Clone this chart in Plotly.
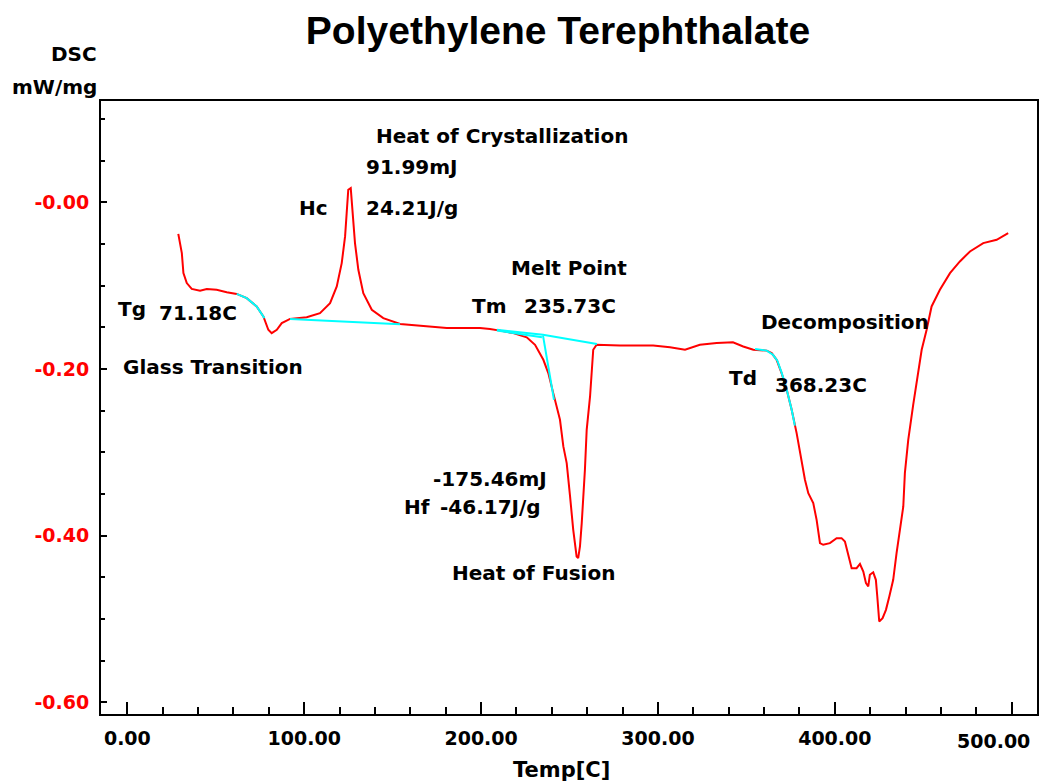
import plotly.graph_objects as go

# DSC scan of PET: temperature (C) and heat flow (mW/mg)
temp_c = [28.8, 30.8, 31.7, 33.6, 36.4, 41.1, 44.9, 50.5, 56.2, 61.8, 67.5, 73.1, 76.9,
          79.7, 81.6, 84.5, 87.3, 92.0, 101.4, 108.9, 114.6, 118.4, 121.2, 123.1, 124.0,
          124.9, 126.3, 127.4, 128.7, 130.6, 133.4, 138.2, 144.7, 154.2, 165.5, 180.6,
          199.4, 205.0, 210.7, 218.2, 225.8, 230.5, 235.2, 238.0, 240.8, 244.6, 246.5,
          248.4, 250.3, 252.1, 254.0, 254.9, 255.9, 256.9, 258.7, 259.7, 261.6, 262.5,
          263.4, 265.3, 278.5, 297.3, 306.8, 315.3, 323.7, 333.2, 342.4, 348.2, 353.9,
          361.5, 364.3, 367.1, 369.9, 372.8, 375.6, 378.4, 381.2, 383.1, 385.0, 387.8,
          389.7, 391.6, 393.4, 397.2, 401.0, 403.8, 405.7, 407.6, 409.5, 412.3, 414.2,
          416.1, 417.6, 418.9, 419.8, 421.7, 423.2, 424.0, 425.1, 427.0, 428.9, 430.8,
          433.0, 434.9, 436.8, 438.7, 439.6, 441.5, 444.3, 446.2, 449.1, 451.9, 454.7,
          459.4, 465.1, 470.7, 476.4, 483.9, 491.5, 498.0]
dsc_mw_mg = [-0.038, -0.061, -0.085, -0.097, -0.104, -0.106, -0.104, -0.105, -0.108, -0.110,
             -0.115, -0.125, -0.137, -0.153, -0.157, -0.153, -0.145, -0.140, -0.138, -0.133,
             -0.121, -0.101, -0.073, -0.041, -0.013, 0.015, 0.017, -0.013, -0.049, -0.081,
             -0.109, -0.129, -0.139, -0.146, -0.148, -0.151, -0.151, -0.152, -0.154, -0.157,
             -0.162, -0.171, -0.189, -0.205, -0.229, -0.261, -0.293, -0.313, -0.353, -0.393,
             -0.425, -0.427, -0.413, -0.385, -0.321, -0.273, -0.233, -0.197, -0.177, -0.171,
             -0.172, -0.172, -0.174, -0.177, -0.171, -0.169, -0.168, -0.173, -0.177, -0.178,
             -0.181, -0.189, -0.205, -0.225, -0.249, -0.277, -0.313, -0.333, -0.349, -0.361,
             -0.381, -0.409, -0.411, -0.409, -0.403, -0.403, -0.407, -0.425, -0.439, -0.439,
             -0.434, -0.443, -0.457, -0.461, -0.447, -0.444, -0.453, -0.473, -0.503, -0.499,
             -0.489, -0.473, -0.453, -0.421, -0.393, -0.365, -0.325, -0.285, -0.243, -0.217,
             -0.177, -0.153, -0.125, -0.105, -0.085, -0.071, -0.059, -0.049, -0.045, -0.037]

# Analysis construction lines (baselines and onset tangents)
tg_tangent_t = [61.8, 67.5, 73.1, 77.5]
tg_tangent_y = [-0.110, -0.115, -0.125, -0.139]
hc_base_t = [92.0, 154.2]
hc_base_y = [-0.140, -0.1465]
tm_base_t = [208.9, 235.0, 265.5]
tm_base_y = [-0.153, -0.159, -0.170]
tm_base2_t = [208.9, 234.4]
tm_base2_y = [-0.154, -0.162]
tm_tangent_t = [235.0, 241.2]
tm_tangent_y = [-0.160, -0.237]
td_tangent_t = [354.9, 361.5, 365.0, 367.5, 370.0, 372.8, 375.6, 377.4]
td_tangent_y = [-0.176, -0.178, -0.183, -0.190, -0.205, -0.225, -0.249, -0.268]

x_ticks = [0, 100, 200, 300, 400, 500]
x_tick_text = ["0.00", "100.00", "200.00", "300.00", "400.00", "500.00"]
y_ticks = [0.0, -0.2, -0.4, -0.6]
y_tick_text = ["-0.00", "-0.20", "-0.40", "-0.60"]

# Text labels placed in data coordinates (left-anchored)
labels = [
    ("Heat of Crystallization", 139.4, 0.0795),
    ("91.99mJ", 133.8, 0.0424),
    ("Hc", 95.9, -0.0068),
    ("24.21J/g", 133.8, -0.0068),
    ("Melt Point", 215.8, -0.0788),
    ("Tm", 193.7, -0.1244),
    ("235.73C", 223.1, -0.1244),
    ("Tg", -6.4, -0.128),
    ("71.18C", 16.8, -0.1328),
    ("Glass Transition", -3.6, -0.1976),
    ("Decomposition", 357.1, -0.1436),
    ("Td", 339.0, -0.2108),
    ("368.23C", 365.0, -0.2192),
    ("-175.46mJ", 171.7, -0.332),
    ("Hf", 155.3, -0.3656),
    ("-46.17J/g", 175.6, -0.3656),
    ("Heat of Fusion", 182.4, -0.4448),
]

BOLD = "DejaVu Sans"
fig = go.Figure()

fig.add_trace(go.Scatter(x=temp_c, y=dsc_mw_mg, mode="lines",
                         line=dict(color="#ff0000", width=2), hoverinfo="skip"))
for tx, ty in [(tg_tangent_t, tg_tangent_y), (hc_base_t, hc_base_y),
               (tm_base_t, tm_base_y), (tm_base2_t, tm_base2_y),
               (tm_tangent_t, tm_tangent_y), (td_tangent_t, td_tangent_y)]:
    fig.add_trace(go.Scatter(x=tx, y=ty, mode="lines",
                             line=dict(color="#00ffff", width=2), hoverinfo="skip"))

annotations = []
for text, ax, ay in labels:
    annotations.append(dict(text=f"<b>{text}</b>", x=ax, y=ay, xref="x", yref="y",
                            xanchor="left", yanchor="middle", showarrow=False,
                            font=dict(family=BOLD, size=20, color="black")))
annotations += [
    dict(text="<b>DSC</b>", x=-0.002, y=1.0767, xref="paper", yref="paper",
         xanchor="right", yanchor="middle", showarrow=False,
         font=dict(family=BOLD, size=20, color="black")),
    dict(text="<b>mW/mg</b>", x=-0.002, y=1.0228, xref="paper", yref="paper",
         xanchor="right", yanchor="middle", showarrow=False,
         font=dict(family=BOLD, size=20, color="black")),
    dict(text="<b>Temp[C]</b>", x=0.4925, y=-0.0914, xref="paper", yref="paper",
         xanchor="center", yanchor="middle", showarrow=False,
         font=dict(family=BOLD, size=21, color="black")),
    # last x tick label is pulled inward so it stays on the page
    dict(text=f"<b>{x_tick_text[-1]}</b>", x=x_ticks[-1], y=-0.044, xref="x", yref="paper",
         xanchor="right", yanchor="middle", xshift=20, showarrow=False,
         font=dict(family=BOLD, size=19, color="black")),
]

fig.update_layout(
    width=1040, height=784,
    margin=dict(l=101, r=3, t=101, b=70),
    paper_bgcolor="white", plot_bgcolor="white",
    showlegend=False,
    title=dict(text="<b>Polyethylene Terephthalate</b>", x=558 / 1040, y=1 - 30 / 784,
               xanchor="center", yanchor="middle",
               font=dict(family="Liberation Sans", size=39, color="black")),
    annotations=annotations,
)

fig.update_xaxes(
    range=[-14.9, 514.3], showgrid=False, zeroline=False, automargin=False,
    showline=True, linecolor="black", linewidth=2, mirror=True,
    tickmode="array", tickvals=x_ticks,
    ticktext=[f"<b>{t}</b>" for t in x_tick_text[:-1]] + [""],
    ticks="inside", ticklen=12, tickwidth=2, tickcolor="black",
    minor=dict(dtick=20, ticks="inside", ticklen=7, tickwidth=2, tickcolor="black"),
    tickfont=dict(family=BOLD, size=19, color="black"),
    ticklabelstandoff=6,
)
fig.update_yaxes(
    range=[-0.614, 0.1215], showgrid=False, zeroline=False, automargin=False,
    showline=True, linecolor="black", linewidth=2, mirror=True,
    tickmode="array", tickvals=y_ticks, ticktext=[f"<b>{t}</b>" for t in y_tick_text],
    ticks="inside", ticklen=6, tickwidth=2, tickcolor="black",
    minor=dict(dtick=0.05, tick0=0, ticks="inside", ticklen=4, tickwidth=2, tickcolor="black"),
    tickfont=dict(family=BOLD, size=19, color="#ff0000"),
    ticklabelstandoff=6,
)

fig.write_html("out.html")
